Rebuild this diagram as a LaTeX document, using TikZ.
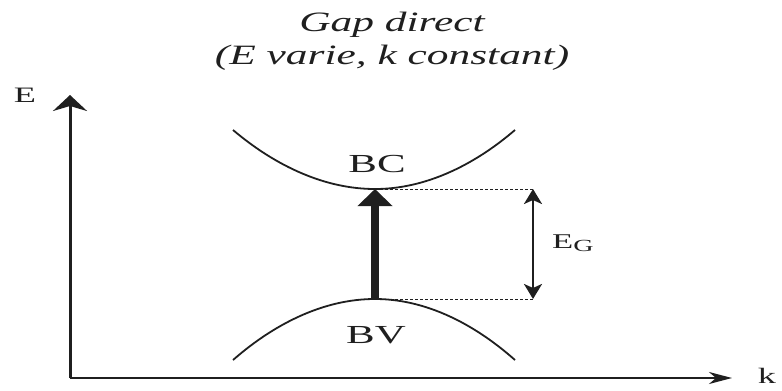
\documentclass[tikz,border=0pt]{standalone}
\usepackage{fontspec}
\usepackage{graphicx}
\setmainfont{Liberation Serif}[FakeStretch=1.65]
\newfontfamily\titlefont{Liberation Serif Italic}
\newcommand{\widetitle}[1]{\scalebox{1.55}[1]{#1}}
\usetikzlibrary{arrows.meta}
\begin{document}
\begin{tikzpicture}[x=1pt,y=-1pt,
  ink/.style={color=black!88},
  titletext/.style={ink, font=\titlefont\fontsize{28}{28}\selectfont, inner sep=0pt, anchor=base},
  bandlabel/.style={ink, font=\fontsize{26}{26}\selectfont, inner sep=0pt, anchor=base},
  axislabel/.style={ink, font=\fontsize{22}{22}\selectfont, inner sep=0pt},
  vaxis/.style={ink, line width=3pt, -{Stealth[length=16pt,width=34pt,inset=5pt]}},
  haxis/.style={ink, line width=2pt, -{Stealth[length=23pt,width=12pt,inset=7pt]}},
  band/.style={ink, line width=1.8pt},
  guide/.style={ink, line width=1pt, dash pattern=on 3pt off 2pt},
  transition/.style={ink, line width=8pt, -{Triangle[length=17pt,width=34pt]}},
  gaparrow/.style={ink, line width=2.5pt, {Stealth[length=15pt,width=18pt,inset=4pt]}-{Stealth[length=15pt,width=18pt,inset=4pt]}}
]
\useasboundingbox (0,0) rectangle (782,391);

% title
\node[titletext] (t1) at (392,31) {\widetitle{Gap direct}};
\node[titletext] (t2) at (392,64) {\widetitle{(E varie, k constant)}};

% axes
\coordinate (O) at (70,378);
\coordinate (Etip) at (70,95);
\coordinate (ktip) at (732,378);
\draw[vaxis] (O) -- (Etip);
\draw[haxis] (O) -- (ktip);
\node[axislabel] (Elab) at (25,95) {E};
\node[axislabel] (klab) at (767,376) {k};

% bands
\coordinate (bcmin) at (375,189);
\coordinate (bvmax) at (375,299);
\draw[band] (233,130) parabola bend (bcmin) (515,130);
\draw[band] (233,360) parabola bend (bvmax) (515,360);
\node[bandlabel] (BC) at (377,172) {BC};
\node[bandlabel] (BV) at (376,343) {BV};

% gap
\coordinate (gt) at (533,189);
\coordinate (gb) at (533,299);
\draw[guide] (bcmin) -- (gt);
\draw[guide] (bvmax) -- (gb);
\draw[transition] (bvmax) -- (bcmin);
\draw[gaparrow] (gb) -- (gt);
\node[ink, inner sep=0pt, anchor=base west, font=\fontsize{21}{21}\selectfont] (EG) at (552,248) {E\raisebox{-3pt}{\fontsize{17}{17}\selectfont G}};
\end{tikzpicture}
\end{document}
